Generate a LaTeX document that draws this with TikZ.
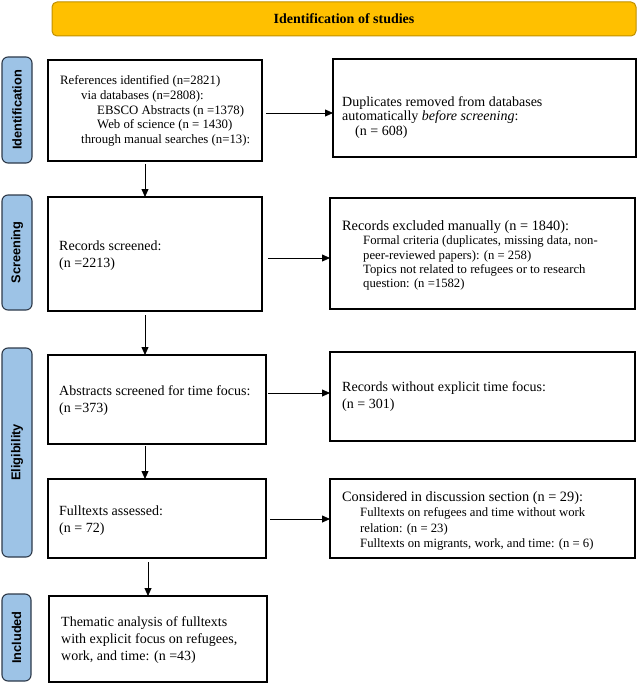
\documentclass[tikz,border=0pt]{standalone}
\usepackage{fontspec}
\setmainfont{Liberation Serif}
\newfontfamily\labelfont{Liberation Sans}
\usetikzlibrary{arrows.meta}
\definecolor{titlefill}{HTML}{FFC000}
\definecolor{titledraw}{HTML}{C09000}
\definecolor{sidefill}{HTML}{9DC3E6}
\definecolor{sidedraw}{HTML}{2E3A4A}
\begin{document}
\begin{tikzpicture}[x=1pt,y=-1pt,
  box/.style={draw=black, line width=1.2pt, rectangle, inner sep=0pt, outer sep=0pt, anchor=north west},
  side/.style={draw=sidedraw, fill=sidefill, line width=1.1pt, rounded corners=6pt, rotate=90, inner sep=0pt, outer sep=0pt,
    font=\labelfont\bfseries\fontsize{12.8}{14}\selectfont},
  titlebox/.style={draw=titledraw, fill=titlefill, line width=1pt, rounded corners=5pt, inner sep=0pt,
    font=\bfseries\fontsize{14}{16}\selectfont},
  txt/.style={anchor=west, align=left, inner sep=0pt},
  big/.style={font=\fontsize{14}{17}\selectfont},
  arr/.style={-{Triangle[length=8pt,width=7pt]}, line width=0.8pt}
]
\useasboundingbox (0,0) rectangle (638,685);

% title
\node[titlebox, minimum width=584, minimum height=34] (title) at (344,19) {Identification of studies};

% side labels
\node[side, minimum width=106, minimum height=30] (lid) at (17,110) {Identification};
\node[side, minimum width=115, minimum height=30] (lsc) at (17,252.5) {Screening};
\node[side, minimum width=209, minimum height=30] (lel) at (17,452.5) {Eligibility};
\node[side, minimum width=87, minimum height=29] (lin) at (16.5,637.5) {Included};

% left boxes
\node[box, minimum width=214, minimum height=101] (b1) at (48,60) {};
\node[box, minimum width=214, minimum height=114] (b2) at (48,197) {};
\node[box, minimum width=218, minimum height=89] (b3) at (48,355) {};
\node[box, minimum width=218, minimum height=79] (b4) at (48,479) {};
\node[box, minimum width=218, minimum height=86] (b5) at (49,596) {};

% right boxes
\node[box, minimum width=303, minimum height=98] (r1) at (333,59) {};
\node[box, minimum width=305, minimum height=111] (r2) at (330,198) {};
\node[box, minimum width=305, minimum height=89] (r3) at (330,352) {};
\node[box, minimum width=305, minimum height=79] (r4) at (330,479) {};

% texts left
\node[txt, font=\fontsize{12.8}{14.7}\selectfont] (t1) at (60,111) {References identified (n=2821)\\
\hspace*{21pt}via databases (n=2808):\\
\hspace*{37pt}EBSCO Abstracts (n =1378)\\
\hspace*{37pt}Web of science (n = 1430)\\
\hspace*{21pt}through manual searches (n=13):};
\node[txt, big] (t2) at (59,255.5) {Records screened:\\(n =2213)};
\node[txt, big] (t3) at (59,400.5) {Abstracts screened for time focus:\\(n =373)};
\node[txt, big] (t4) at (59,521) {Fulltexts assessed:\\(n = 72)};
\node[txt, big] (t5) at (61,640) {Thematic analysis of fulltexts\\with explicit focus on refugees,\\work, and time: (n =43)};

% texts right
\node[txt, font=\fontsize{14}{14.5}\selectfont] (s1) at (342,117.5) {Duplicates removed from databases\\
automatically \textit{before screening}:\\
\hspace*{13pt}(n = 608)};
\node[txt, font=\fontsize{14.3}{14.3}\selectfont] (s2) at (342,255.5) {Records excluded manually (n = 1840):\\
\hspace*{21pt}{\fontsize{12.7}{14.3}\selectfont Formal criteria (duplicates, missing data, non-}\\
\hspace*{21pt}{\fontsize{12.7}{14.3}\selectfont peer-reviewed papers): (n = 258)}\\
\hspace*{21pt}{\fontsize{12.7}{14.3}\selectfont Topics not related to refugees or to research}\\
\hspace*{21pt}{\fontsize{12.7}{14.3}\selectfont question: (n =1582)}};
\node[txt, big] (s3) at (342,396.5) {Records without explicit time focus:\\(n = 301)};
\node[txt, font=\fontsize{14.3}{15.3}\selectfont] (s4) at (342,521) {Considered in discussion section (n = 29):\\
\hspace*{18pt}{\fontsize{12.7}{15.3}\selectfont Fulltexts on refugees and time without work}\\
\hspace*{18pt}{\fontsize{12.7}{15.3}\selectfont relation: (n = 23)}\\
\hspace*{18pt}{\fontsize{12.7}{15.3}\selectfont Fulltexts on migrants, work, and time: (n = 6)}};

% vertical arrows
\draw[arr] ([xshift=-10pt,yshift=-3pt]b1.south) -- ([xshift=-10pt]b2.north);
\draw[arr] ([xshift=-10pt,yshift=-4pt]b2.south) -- ([xshift=-12pt]b3.north);
\draw[arr] ([xshift=-12pt,yshift=-2pt]b3.south) -- ([xshift=-12pt]b4.north);
\draw[arr] ([xshift=-9pt,yshift=-4pt]b4.south) -- ([xshift=-10pt]b5.north);

% horizontal arrows
\draw[arr] ([xshift=4pt,yshift=-2.5pt]b1.east) -- ([yshift=-5pt]r1.west);
\draw[arr] ([xshift=6pt,yshift=-4pt]b2.east) -- ([yshift=-4.5pt]r2.west);
\draw[arr] ([xshift=2pt,yshift=6.5pt]b3.east) -- ([yshift=3.5pt]r3.west);
\draw[arr] ([xshift=4pt,yshift=-0.5pt]b4.east) -- ([yshift=-0.5pt]r4.west);
\end{tikzpicture}
\end{document}
